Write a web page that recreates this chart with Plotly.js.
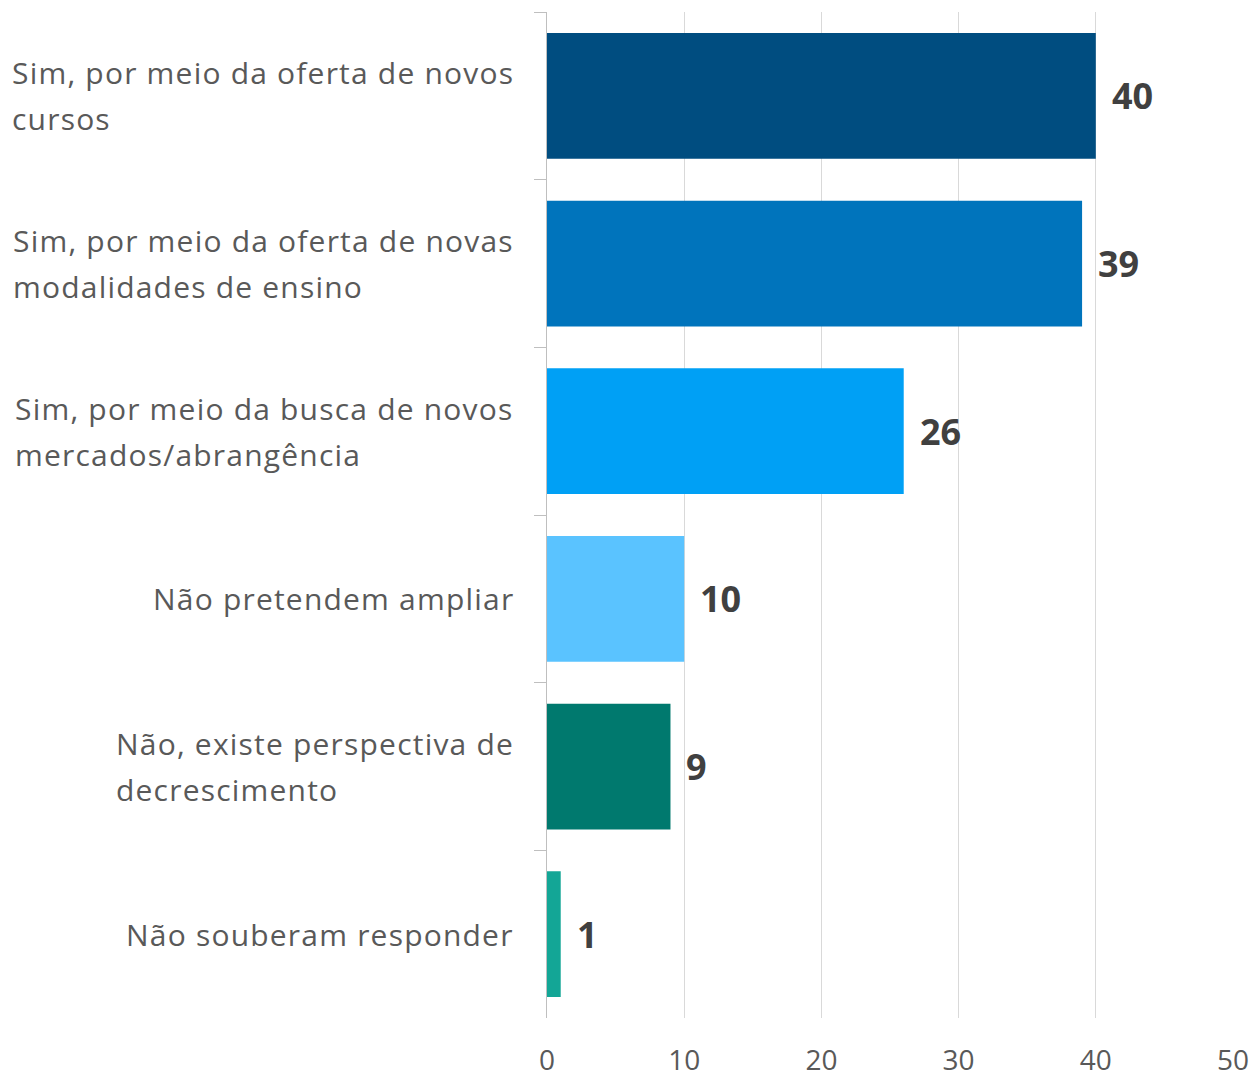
<!DOCTYPE html>
<html>
<head>
<meta charset="utf-8">
<script src="https://cdn.plot.ly/plotly-3.0.1.min.js"></script>
<style>
  html, body { margin: 0; padding: 0; background: #ffffff; }
  #chart { width: 1258px; height: 1081px; }
</style>
</head>
<body>
<div id="chart"></div>
<script>
// ---- data ----
const categoryLines = [
  ["Sim, por meio da oferta de novos", "cursos"],
  ["Sim, por meio da oferta de novas", "modalidades de ensino"],
  ["Sim, por meio da busca de novos", "mercados/abrangência"],
  ["Não pretendem ampliar"],
  ["Não, existe perspectiva de", "decrescimento"],
  ["Não souberam responder"]
];
const categories = categoryLines.map(l => l.join(" "));
const values = [40, 39, 26, 10, 9, 1];
const barColors = ["#004D80", "#0074BC", "#00A0F5", "#5AC3FF", "#00796E", "#13A696"];
const xTickValues = [0, 10, 20, 30, 40, 50];

// ---- styling ----
const LABEL_FONT = "Open Sans";
const LABEL_SIZE = 30;
const LETTER_SPACING = 1.2;
const LABEL_COLOR = "#595959";
const LINE_GAP = 46;

const annotations = [];

// category labels: block left-aligned, block right edge 35px left of the axis
const ctx = document.createElement("canvas").getContext("2d");
ctx.font = LABEL_SIZE + "px '" + LABEL_FONT + "'";
const measure = s => ctx.measureText(s).width + LETTER_SPACING * s.length;
categoryLines.forEach((lines, i) => {
  const maxW = Math.max(...lines.map(measure));
  const n = lines.length;
  lines.forEach((line, j) => {
    annotations.push({
      xref: "paper", x: 0, yref: "y", y: categories[i],
      text: '<span style="letter-spacing:' + LETTER_SPACING + 'px">' + line + '</span>',
      showarrow: false,
      xanchor: "left", yanchor: "middle",
      xshift: -35 - maxW,
      yshift: ((n - 1) / 2 - j) * LINE_GAP,
      font: { family: LABEL_FONT, size: LABEL_SIZE, color: LABEL_COLOR }
    });
  });
});

// value labels
values.forEach((v, i) => {
  annotations.push({
    xref: "x", x: v, yref: "y", y: categories[i],
    text: "<b>" + v + "</b>", showarrow: false,
    xanchor: "left", yanchor: "middle", xshift: 14,
    font: { family: LABEL_FONT, size: 36, color: "#404040" }
  });
});

const trace = {
  type: "bar",
  orientation: "h",
  x: values,
  y: categories,
  marker: { color: barColors, line: { width: 0 } },
  hoverinfo: "x+y"
};

const layout = {
  width: 1258, height: 1081,
  margin: { l: 547, r: 25, t: 12, b: 63 },
  paper_bgcolor: "#ffffff",
  plot_bgcolor: "#ffffff",
  showlegend: false,
  bargap: 0.25,
  xaxis: {
    range: [0, 50],
    tickvals: xTickValues,
    ticktext: xTickValues.map(String),
    showgrid: true, gridcolor: "#D9D9D9", gridwidth: 1,
    zeroline: false,
    showline: false,
    ticks: "",
    ticklabelstandoff: 23,
    tickfont: { family: LABEL_FONT, size: 28, color: LABEL_COLOR }
  },
  yaxis: {
    type: "category",
    autorange: "reversed",
    showticklabels: false,
    showgrid: false,
    zeroline: false,
    showline: true, linecolor: "#BFBFBF", linewidth: 1,
    ticks: "outside", tickson: "boundaries", ticklen: 12, tickcolor: "#BFBFBF", tickwidth: 1
  },
  annotations: annotations
};

Plotly.newPlot("chart", [trace], layout, { displayModeBar: false, staticPlot: true });
</script>
</body>
</html>
